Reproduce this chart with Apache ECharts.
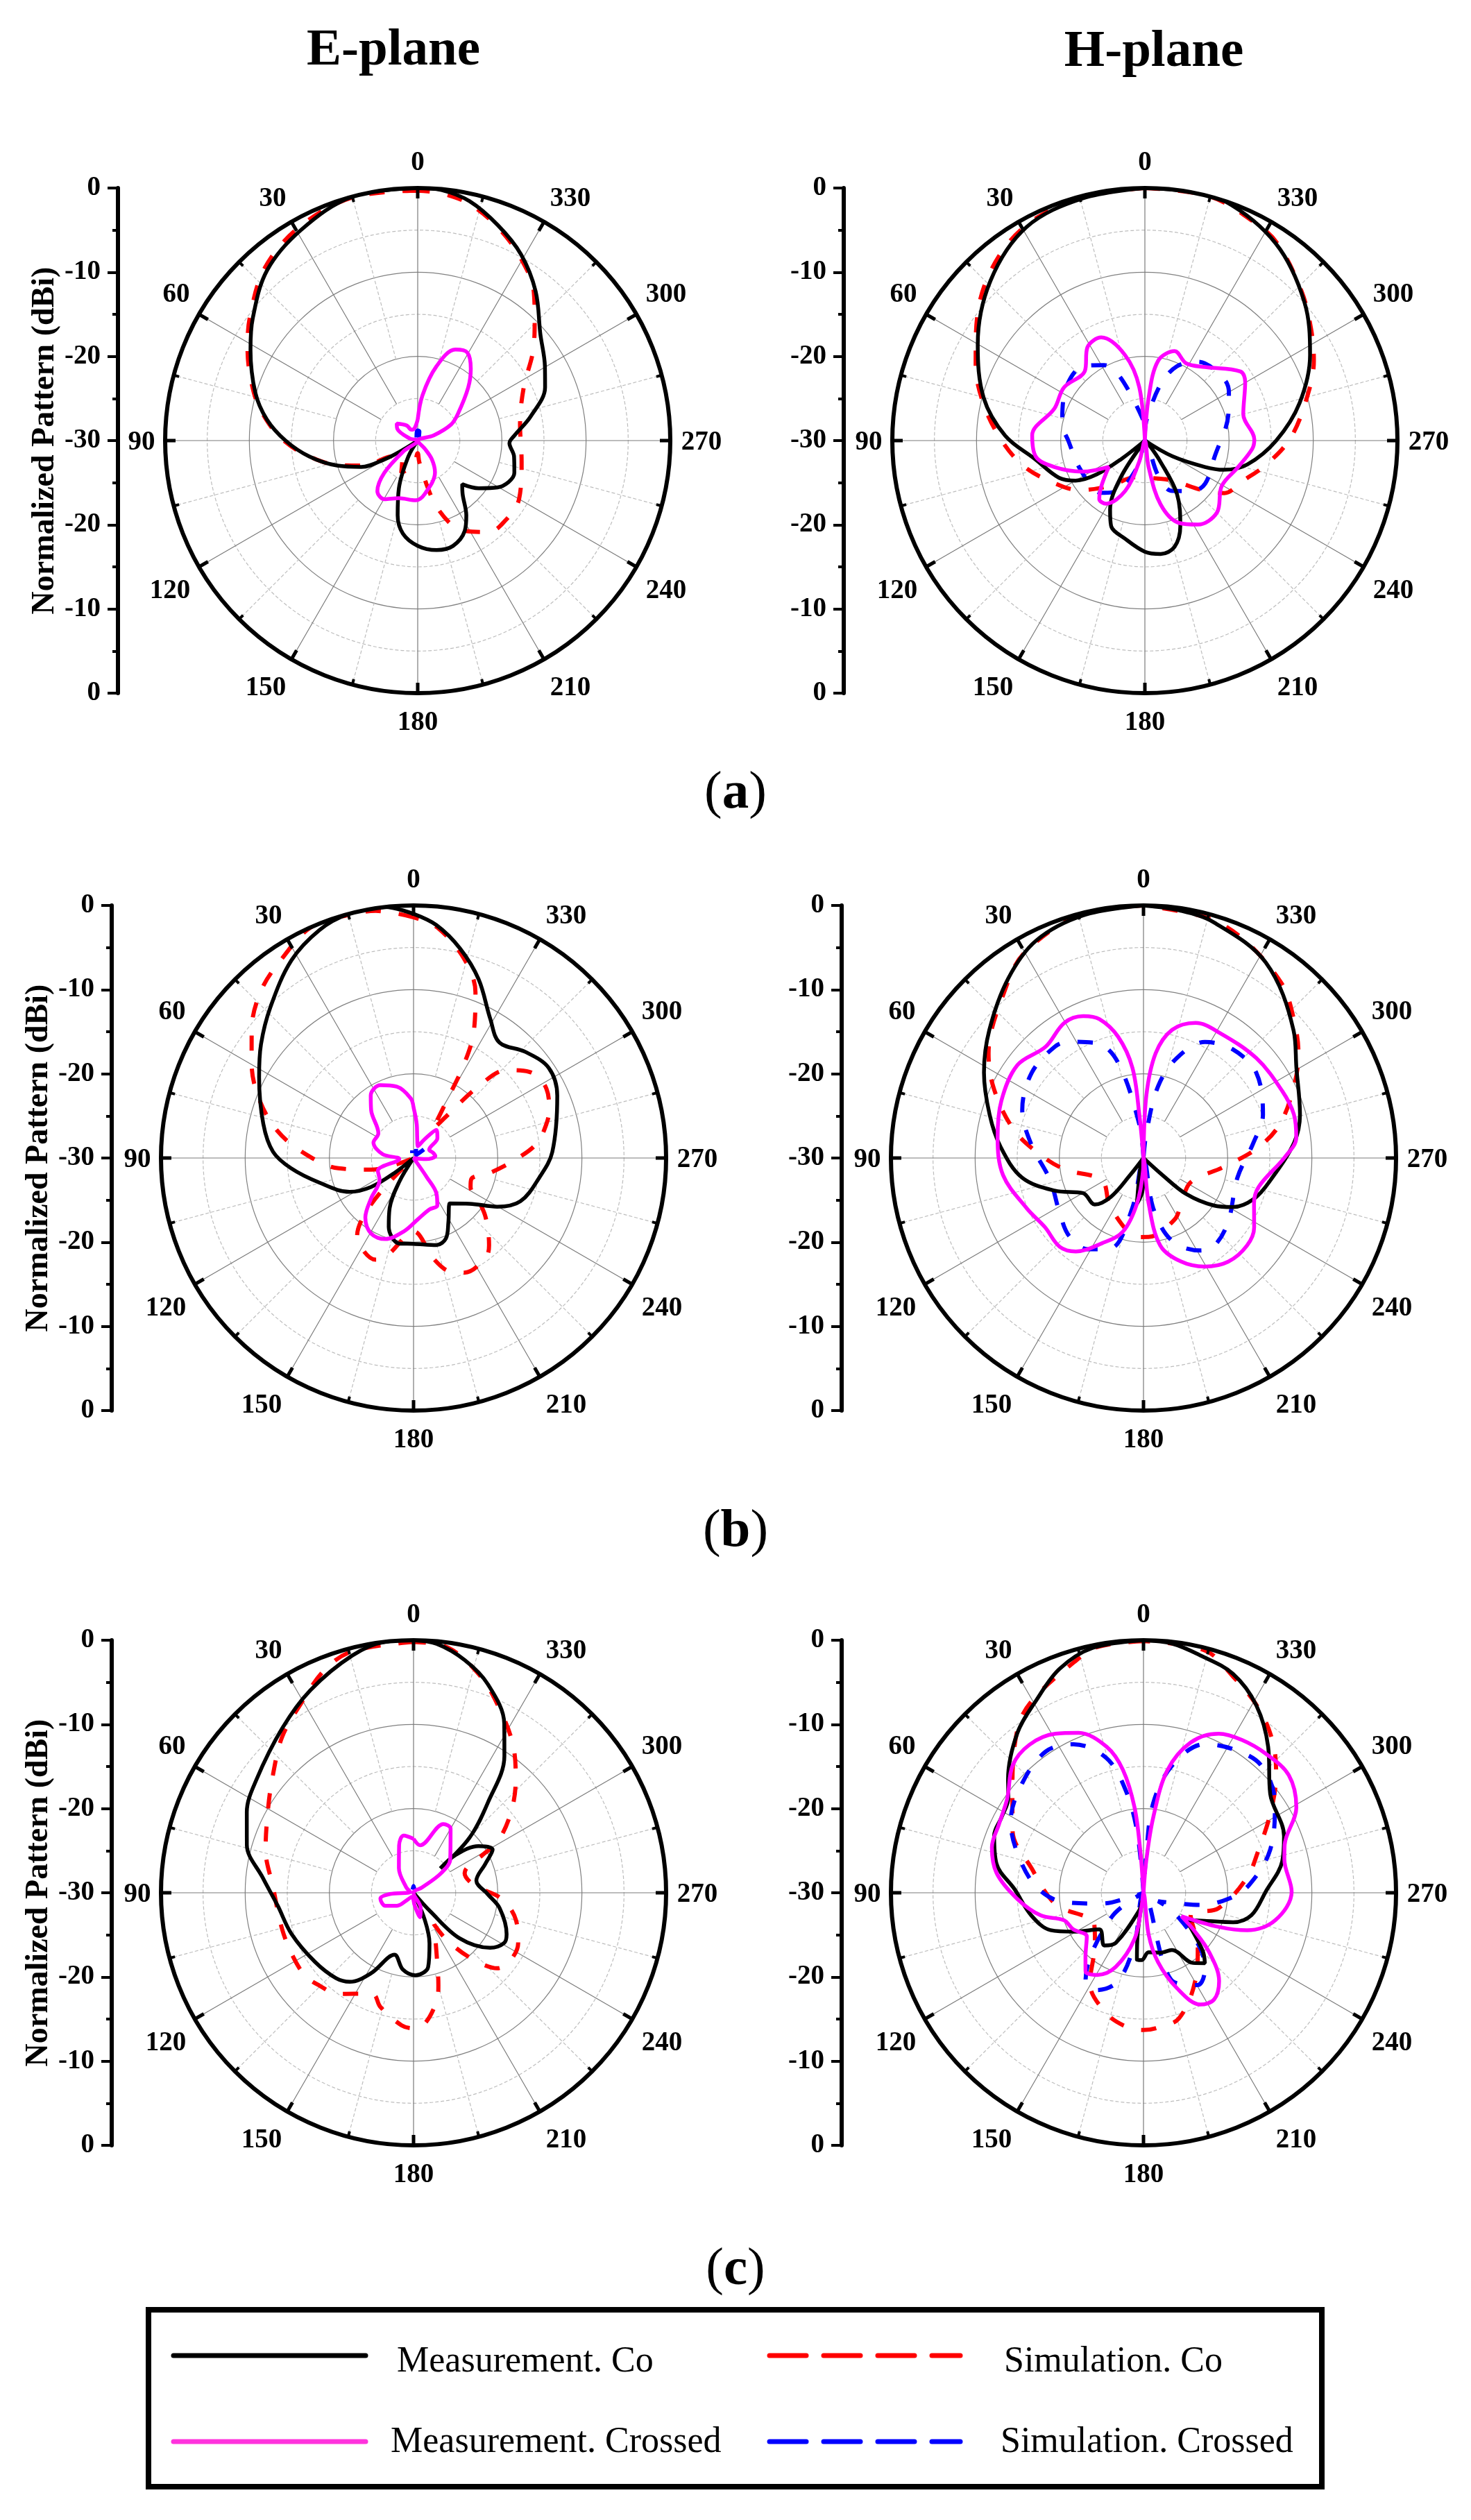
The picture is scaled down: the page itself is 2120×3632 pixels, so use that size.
<!DOCTYPE html>
<html>
<head>
<meta charset="utf-8">
<style>html,body{margin:0;padding:0;background:#fff}#chart{width:2120px;height:3632px}</style>
<script src="https://cdn.jsdelivr.net/npm/echarts@6/dist/echarts.min.js"></script>
</head>
<body>
<div id="chart"></div>
<script>
// every curve: [angle in degrees, level in dB]
const A_E_MEAS_CO = [[0,0],[15,0],[29,-1.4],[41.5,-3],[53.4,-5.6],[61.5,-7.4],[73.6,-9.9],[82,-11.9],[90,-14.3],[98.4,-17],[107.3,-20],[115,-22.6],[119.5,-25.5],[122,-28],[130,-30],[149.6,-27.8],[158.5,-23.9],[165,-20.8],[171,-18.8],[180,-17.5],[189.8,-16.8],[198.5,-16.8],[207.5,-17.9],[213,-19.4],[220,-21.7],[225.6,-22.6],[232,-20.8],[239.6,-19],[251.6,-17.9],[260.6,-18.4],[268.4,-19.1],[273,-18.5],[282,-16.3],[292.7,-13.6],[300.3,-12.5],[311,-10.7],[321.7,-7.4],[331,-4.7],[339.6,-2.7],[347.8,-0.9],[354.6,-0.1],[360,0]];
const A_E_SIM_CO = [[0,-0.3],[15,-0.1],[29,-1],[41.5,-2.6],[53.4,-5.2],[61.5,-7],[73.6,-9.7],[82,-11.8],[90,-14.1],[98.4,-17],[107.3,-20.2],[115,-23],[119,-26],[135,-27.5],[153,-25.7],[170,-27],[180,-28.5],[184,-27.5],[191.7,-24.5],[196,-21.8],[202.5,-19],[207.5,-17.9],[217.6,-16.3],[224,-15.9],[240,-16.1],[258.4,-17.4],[278.8,-17.7],[296.7,-15.9],[308,-12.6],[316,-10],[322,-7.6],[331,-5],[339.6,-2.9],[347.8,-1.2],[354.6,-0.5],[360,-0.3]];
const A_E_MEAS_X = [[0,-27.5],[15,-28.5],[30,-28.5],[36,-27.8],[51,-26.8],[60,-27.2],[75,-29],[90,-30],[115,-30],[127,-27.9],[134,-24.5],[141.5,-22.3],[150.5,-22],[161.8,-22.8],[178,-22.9],[187.5,-23.6],[208.5,-25.7],[217,-27.2],[221,-28.7],[240,-30],[270,-30],[288,-28],[295.7,-25.6],[303.4,-24.3],[316.4,-21.3],[323.5,-19.4],[330.6,-18],[337.5,-18.3],[345.8,-20.9],[354,-24.6],[360,-27.5]];
const A_E_SIM_X = [[340,-29.6],[350,-28.9],[360,-28.8],[5,-28.9],[20,-29.6]];

const A_H_MEAS_CO = [[0,0],[14.4,-0.3],[29,-1],[44,-3.6],[60.1,-7.1],[75.2,-10.2],[88,-13.4],[99.7,-16.8],[113.5,-18.9],[120,-20.5],[125,-23],[128,-26.5],[132,-30],[146.8,-24.7],[153.3,-20.8],[158.4,-19.1],[168.7,-18.1],[180,-16.8],[187.9,-16.4],[195.6,-16.9],[202.5,-19],[211,-22.6],[216.4,-26.9],[228,-29.5],[232,-30],[240.3,-26.2],[246.3,-22.2],[249.7,-20],[256.9,-17.5],[270,-14.4],[283.6,-11.1],[297.4,-7.9],[311,-4.9],[326.4,-1.9],[341.7,0],[351.6,0],[360,0]];
const A_H_SIM_CO = [[0,0],[14.4,-0.2],[30,-0.9],[45,-3.3],[60,-6.8],[66,-8],[77,-10.3],[89,-12.8],[101,-15.1],[112,-17.5],[127.4,-20.3],[143,-23.3],[165,-25.5],[180,-25.6],[214,-24.3],[228.6,-21.2],[236.5,-18.7],[247.8,-17.4],[258.8,-15.3],[271,-12.7],[284.8,-10.1],[295.3,-7.8],[304,-6.2],[313.6,-4.3],[326,-1.8],[333.3,-1],[345,0],[360,0]];
const A_H_MEAS_X = [[0,-30],[6,-23.6],[13,-19.6],[22.9,-16.7],[31.7,-17],[40.9,-19.1],[56.7,-18.5],[70.5,-18.6],[87.3,-16.6],[98.3,-16.9],[106.3,-18.8],[116.4,-21.7],[126,-24.7],[136,-22.6],[142,-21.2],[148.4,-21.2],[158.7,-23.6],[165,-27.4],[178,-30],[188,-26.8],[193.8,-22.2],[202.6,-19.4],[212.3,-18.2],[225,-17.9],[239.5,-19.4],[254,-18.5],[265.7,-17.2],[270.6,-17],[285,-17.9],[300.3,-16.2],[305.9,-16],[320.6,-18.7],[331.8,-19.6],[341.6,-18.8],[350.6,-20.4],[355,-24.9],[360,-30]];
const A_H_SIM_X = [[5,-27.5],[17.5,-24],[23,-21.1],[28.4,-19.8],[39.8,-18.5],[60.9,-19],[79,-20],[90,-20.9],[114,-21.6],[140,-21.9],[150,-23],[165,-26.9],[180,-30],[200.8,-25.6],[208.4,-23.2],[223.8,-21.7],[234.7,-21.2],[257,-21.5],[287.5,-19.6],[299.8,-18.5],[307.8,-18.1],[326,-18.7],[336.7,-20.4],[344.4,-23.1],[355,-27.5],[360,-29]];

const B_E_MEAS_CO = [[0,-1],[6.5,0],[15,0],[22.4,-0.7],[31.7,-2.4],[43.5,-5.3],[53.3,-7.4],[62.4,-9.3],[77.2,-11.7],[87.5,-13.3],[94.8,-15.4],[104.5,-18.4],[117.9,-21.4],[124.3,-23.9],[128,-27.1],[135,-30],[149,-26.7],[154.5,-23.4],[160.2,-21.3],[170.3,-19.7],[180,-19.8],[194.7,-19.3],[201.9,-19.7],[208.4,-21.3],[218.4,-23.1],[230.8,-21.4],[239.8,-18.5],[248,-16.3],[261,-14.9],[272.5,-13.5],[293.4,-11.4],[303.7,-10.7],[313.6,-11.7],[323.4,-12.9],[331.2,-11.1],[340,-7.4],[347.5,-4.5],[354.4,-2.2],[360,-1]];
const B_E_SIM_CO = [[0,-1.4],[8.7,-0.3],[15,-0.1],[24,0],[33.3,-1.6],[42.3,-3.1],[51.7,-5.5],[59.6,-7.7],[68.9,-10.3],[78.7,-13.5],[88,-17.2],[97.8,-21],[105.4,-24.8],[110,-27.6],[130,-30],[144,-18.6],[159.5,-17.1],[163,-17.5],[176,-21],[180,-21.3],[191.5,-17.7],[198,-15.8],[204,-15.1],[216,-15.4],[220.9,-16.3],[230.5,-18.9],[236.5,-20.7],[243,-22.4],[250,-22.7],[260,-20.5],[270.8,-17.3],[277,-15.2],[284.4,-13.7],[289.6,-12.9],[297.5,-12.2],[304.5,-12.5],[309.4,-13.6],[313.4,-14.8],[317.8,-18.5],[322,-23.8],[326,-26],[330,-22],[331.8,-17.2],[334.7,-13.2],[339.5,-9],[345.5,-5.7],[354,-2.5],[360,-1.4]];
const B_E_MEAS_X = [[0,-24],[2.7,-22.9],[13.2,-21.3],[24.5,-20.5],[34.4,-21],[41.5,-22.4],[55,-24.9],[69,-24.9],[83,-26.3],[94,-28.3],[109.6,-25.5],[122.8,-25.2],[133.7,-23],[141,-20.9],[150.7,-19.7],[160.7,-19.8],[172.4,-21.2],[184,-22.7],[197,-23.6],[206.6,-23.7],[212.5,-24.9],[214.6,-27.2],[220,-30],[265,-28.5],[275,-27.4],[285,-27.6],[298,-27.9],[310,-26.3],[321,-25.7],[330,-27.5],[340,-28.5],[350,-27.5],[354.5,-26],[360,-24]];
const B_E_SIM_X = [[310,-28.4],[320,-29.5],[350,-28.5],[360,-28.2],[5,-28],[15,-29.4]];

const B_H_MEAS_CO = [[0,0],[14,-0.3],[26.3,-1.2],[37,-3.3],[50.3,-6.2],[61.8,-8.5],[74.2,-11],[85.7,-13],[99.2,-15.4],[110.3,-18.8],[120.2,-21.7],[133.6,-22],[140,-24],[141.9,-27.4],[150,-30],[160,-29],[171.8,-24.5],[178,-26],[185,-29],[200,-30],[222,-30],[228,-27],[229.8,-23.4],[236,-19.9],[241.2,-17.9],[249.8,-16],[260,-14.7],[275.9,-12],[285.6,-10.7],[300.6,-8.9],[310.4,-6.6],[328,-2.6],[343.3,-0.8],[351.3,-0.3],[360,0]];
const B_H_SIM_CO = [[0,0],[15,-0.2],[30,-1.8],[39,-4],[56,-7.8],[65.1,-10.4],[77.3,-14.1],[86.8,-17.3],[98,-20.5],[112,-24],[121.8,-24.5],[147,-22.9],[177,-20.6],[183.7,-20.6],[206.6,-21.8],[220,-23],[242.8,-23.7],[263.7,-20.4],[275.3,-16.3],[284,-13.3],[295.5,-10.2],[304,-7.8],[314.7,-5.2],[322,-3.5],[335,-1.5],[345,-0.5],[360,0]];
const B_H_MEAS_X = [[0,-30],[5.5,-24.8],[7,-19.2],[11.8,-15.3],[17.6,-12.7],[23,-11.7],[30.4,-11.4],[41.3,-12.4],[53.6,-11.4],[68,-11.8],[82,-12.5],[97,-13.2],[113.3,-14.9],[125,-15.7],[136.6,-15.5],[144.1,-16.3],[153.9,-18.7],[164.3,-20.9],[171.8,-24.5],[178,-28.5],[180,-30],[186.5,-24.5],[190.9,-19.4],[200,-16.9],[209.4,-15.2],[219.2,-14.1],[229.8,-13.9],[238,-14.5],[247.6,-15.8],[255.9,-15.9],[270.4,-13.2],[277.5,-11.7],[286.2,-11.4],[295.8,-11.7],[311.5,-12.1],[329,-12.6],[338.9,-12.8],[347.4,-14.4],[353.4,-17.5],[357.4,-22.6],[360,-30]];
const B_H_SIM_X = [[0,-30],[7,-26],[14.9,-18.3],[22,-15.3],[32.7,-13.6],[38.5,-13.1],[52.6,-13.3],[68.3,-14.5],[83.3,-16.6],[103.3,-18.6],[123.2,-18.1],[136.4,-17.2],[148.6,-17.3],[160.2,-18.6],[167.4,-23.9],[180,-30],[191,-23.9],[199,-19.6],[211.6,-17.1],[218.9,-16.6],[232.9,-17.4],[258.2,-18.6],[278,-16.8],[290,-14.9],[307.2,-13.2],[320.7,-13.3],[332.1,-14.4],[341.6,-17.5],[348.5,-21.3],[353.5,-27],[360,-30]];

const C_E_MEAS_CO = [[0,0],[6.5,0],[14.5,-0.9],[27,-3],[38.6,-5],[54.2,-7],[64.2,-8],[74,-9.4],[84.3,-12],[95.5,-13.8],[108.6,-14.7],[125,-15.7],[137.8,-16.3],[144.4,-17],[152.2,-19.2],[162.9,-22.3],[172,-20.8],[181.3,-20.2],[191.1,-21],[197.5,-23.7],[202.5,-26.5],[210,-30],[222,-27],[225.3,-22.3],[234.3,-18.8],[241,-17.7],[246,-17.9],[259.8,-19.6],[269,-21.2],[281,-22.4],[292,-20.8],[298.6,-19.3],[305.7,-20.5],[312,-23.3],[312.4,-25.7],[314.5,-20.7],[320.4,-16.2],[326.4,-10.5],[331.8,-7.2],[340.4,-3.7],[347.6,-1.7],[354.7,-0.3],[360,0]];
const C_E_SIM_CO = [[0,-0.2],[14.2,-0.4],[21.8,-1.5],[31,-3.9],[40.2,-5.8],[50,-8.2],[59.7,-10],[73.8,-11.7],[87.7,-13.3],[105.5,-13.8],[118.3,-13.8],[127.6,-13.8],[134.6,-14.3],[143.3,-15],[149.7,-16.1],[158.5,-17],[163.7,-15.9],[174.8,-14.2],[180,-13.9],[184.9,-14.4],[191.9,-16.8],[195,-18.6],[201,-22.4],[212.9,-25.5],[215,-23.3],[220.8,-19.9],[228,-16.6],[244.2,-16.2],[255,-17.4],[266,-19.5],[277.5,-22.8],[291,-23.5],[298.8,-20.6],[301,-18.4],[309.5,-15],[317.9,-11.9],[325.6,-9],[336,-5.5],[343.4,-2.9],[352,-0.6],[360,-0.2]];
const C_E_MEAS_X = [[0,-23.6],[9.8,-23.1],[16.9,-24.1],[30.8,-26.6],[53,-28.9],[75,-29.6],[93,-27.2],[100,-26],[114.7,-26.3],[128,-27.5],[140,-29],[160,-29.5],[185,-28.5],[194.8,-27],[205,-28],[215,-30],[290,-30],[302,-28.8],[305.4,-26],[312.4,-24.1],[330,-21.2],[336.5,-21.1],[352.2,-24.3],[360,-23.6]];
const C_E_SIM_X = [[345,-29.6],[360,-29.2],[15,-29.6]];

const C_H_MEAS_CO = [[0,0],[11.8,-0.3],[20.6,-1.6],[29,-3.8],[38.2,-5.8],[50,-9],[55,-10.4],[62,-10.9],[69,-11],[78.8,-12.2],[88.5,-14.7],[101.4,-16.4],[111.9,-18.1],[119.1,-20.5],[129.7,-23.2],[143.4,-22.2],[151,-23.2],[166,-27.8],[170,-29],[172,-25],[174.4,-22],[178.4,-22],[184.9,-22.9],[195.7,-22.6],[206.4,-22.4],[215.2,-19.8],[221.1,-18.9],[225.7,-20.2],[237.5,-24],[245.4,-22],[251.8,-18.8],[258.3,-16.9],[270.4,-15.5],[282.8,-13.1],[292,-12],[308,-10.9],[319.5,-7.2],[329,-4],[337.8,-1.9],[346.6,-1],[353.5,-0.2],[360,0]];
const C_H_SIM_CO = [[0,-0.1],[10.7,-0.3],[16.8,-1.4],[30,-3.6],[37.4,-5.4],[51.5,-10.1],[64.7,-12.8],[77.7,-16.4],[97,-19.4],[110.4,-22.3],[115.9,-23.3],[136,-21.7],[149.4,-17.5],[163,-15],[173.3,-13.9],[180,-13.7],[186.1,-13.9],[195.8,-14.5],[210.6,-17.9],[224.5,-20.8],[244.6,-23.8],[258.4,-20.9],[278.2,-17.6],[290.5,-15.4],[302.4,-12.1],[311.7,-8.9],[319.4,-6.4],[327.9,-4.2],[337.5,-2.2],[345.8,-0.3],[360,-0.1]];
const C_H_MEAS_X = [[0,-30],[4.4,-24.9],[6,-19.8],[9.5,-15.2],[14.2,-12.1],[22.1,-9.5],[29,-8.4],[37.6,-7.8],[45.7,-8.3],[55.2,-10.3],[64.6,-11],[73.3,-11.2],[82.4,-12.4],[92.8,-15],[102.4,-17.5],[109,-20],[117.6,-20.6],[127.6,-21.5],[138,-19.7],[143.6,-18.4],[150.6,-18.8],[159.5,-20.6],[169,-24.4],[172,-28.4],[180,-30],[187,-25],[191.8,-21.6],[199.3,-18],[207,-15.1],[213.5,-14.8],[220.6,-16.2],[227.7,-19.4],[233.7,-22.7],[238.3,-24.7],[245.6,-20.2],[250.1,-16.9],[258.3,-14],[270.4,-12.4],[283.4,-12.8],[288.7,-12.3],[299.2,-9.2],[309,-7.8],[318.7,-8],[327.2,-8.4],[334.7,-9.1],[342.6,-11.3],[349,-15.2],[352.6,-20.9],[355,-26],[360,-30]];
const C_H_SIM_X = [[0,-30],[6,-22.6],[10,-17.5],[15.4,-13.4],[25.2,-10.5],[34.7,-9.6],[48.1,-10.6],[61.8,-12.1],[73,-14.4],[87,-17.3],[96.7,-20.5],[104.5,-24.9],[108,-28.4],[120,-30],[127.5,-25.2],[146.6,-17.5],[154.5,-17.2],[164,-19.1],[170,-23.9],[180,-30],[198,-19],[210.4,-17.3],[218,-18.2],[225.7,-20.6],[237,-25.6],[240,-28],[257.9,-23.1],[265.9,-19.9],[274.3,-17.4],[288.8,-14.1],[304.3,-11.1],[317.3,-9.4],[328,-9.9],[337.6,-10.9],[347.3,-14.5],[353.8,-19.3],[356,-25.4],[360,-30]];

const PANEL_TITLES = ['E-plane', 'H-plane'];
const ROW_LETTERS = ['a', 'b', 'c'];
const ANGLE_LABELS = ['0', '30', '60', '90', '120', '150', '180', '210', '240', '270', '300', '330'];
const Y_TICK_LABELS = ['0', '-10', '-20', '-30', '-20', '-10', '0'];
const Y_NAME = 'Normalized Pattern (dBi)';
const LEGEND_NAMES = ['Measurement. Co', 'Simulation. Co', 'Measurement. Crossed', 'Simulation. Crossed'];
const SOLID_SPOKES = [30, 60, 120, 150, 210, 240, 300, 330];
const AXIS_SPOKES = [0, 90, 180, 270];
const DOTTED_SPOKES = [15, 45, 75, 105, 135, 165, 195, 225, 255, 285, 315, 345];

const SERIF = '"Liberation Serif", "Times New Roman", serif';
const BLACK = '#000000', RED = '#ff0000', BLUE = '#0000ff', MAGENTA = '#ff00ff';
const R = 364;

// layout of the six panels, left axis position included
const panels = [
  {cx: 602, cy: 635, axisX: 170, yName: true, curves: [A_E_SIM_CO, A_E_SIM_X, A_E_MEAS_CO, A_E_MEAS_X]},
  {cx: 1650, cy: 635, axisX: 1216, yName: false, curves: [A_H_SIM_CO, A_H_SIM_X, A_H_MEAS_CO, A_H_MEAS_X]},
  {cx: 596, cy: 1669, axisX: 161, yName: true, curves: [B_E_SIM_CO, B_E_SIM_X, B_E_MEAS_CO, B_E_MEAS_X]},
  {cx: 1648, cy: 1669, axisX: 1213, yName: false, curves: [B_H_SIM_CO, B_H_SIM_X, B_H_MEAS_CO, B_H_MEAS_X]},
  {cx: 596, cy: 2728, axisX: 161, yName: true, curves: [C_E_SIM_CO, C_E_SIM_X, C_E_MEAS_CO, C_E_MEAS_X]},
  {cx: 1648, cy: 2728, axisX: 1213, yName: false, curves: [C_H_SIM_CO, C_H_SIM_X, C_H_MEAS_CO, C_H_MEAS_X]}
];

// where each angle label sits, relative to the panel centre
const labelOffsets = [[0,-400],[-209,-348],[-348,-210],[-398,3],[-357,217],[-219,357],[0,407],[220,357],[358,217],[409,3],[358,-210],[220,-348]];

function spokes(angles, from) {
  let out = [];
  angles.forEach(a => { out.push([from, a], [0, a], ['-', '-']); });
  return out;
}

let polar = [], angleAxis = [], radiusAxis = [], grid = [], xAxis = [], yAxis = [], series = [], graphic = [];

panels.forEach((p, i) => {
  polar.push({center: [p.cx, p.cy], radius: [0, R]});
  angleAxis.push({
    polarIndex: i, type: 'value', min: 0, max: 360, interval: 30, startAngle: 90, clockwise: false, z: 6,
    axisLine: {lineStyle: {color: BLACK, width: 6}},
    axisTick: {show: true, inside: true, length: 15, lineStyle: {color: BLACK, width: 5}},
    minorTick: {show: true, splitNumber: 2, length: 8, lineStyle: {color: BLACK, width: 4}},
    axisLabel: {show: false}, splitLine: {show: false}
  });
  radiusAxis.push({
    polarIndex: i, type: 'value', min: -30, max: 0, interval: 10,
    axisLine: {show: false}, axisTick: {show: false}, axisLabel: {show: false},
    splitLine: {show: true, lineStyle: {color: '#808080', width: 1.2}},
    minorTick: {show: false, splitNumber: 2},
    minorSplitLine: {show: true, lineStyle: {color: '#bdbdbd', width: 1.2, type: [5, 3]}}
  });
  grid.push({left: p.axisX, top: p.cy - R, width: 1, height: 2 * R});
  xAxis.push({gridIndex: i, type: 'value', show: false});
  yAxis.push({
    gridIndex: i, type: 'value', position: 'left', min: -30, max: 30, interval: 10,
    name: p.yName ? Y_NAME : '', nameLocation: 'middle', nameGap: 82, nameRotate: 90,
    nameTextStyle: {fontFamily: SERIF, fontWeight: 'bold', fontSize: 46, color: BLACK},
    axisLine: {show: true, lineStyle: {color: BLACK, width: 6}},
    axisTick: {show: true, length: 15, lineStyle: {color: BLACK, width: 4}},
    minorTick: {show: true, splitNumber: 2, length: 8, lineStyle: {color: BLACK, width: 4}},
    splitLine: {show: false},
    axisLabel: {
      margin: 25, padding: [5, 0, 0, 0], fontFamily: SERIF, fontWeight: 'bold', fontSize: 39, color: BLACK,
      formatter: v => Y_TICK_LABELS[(30 - v) / 10]
    }
  });

  let furniture = [
    {data: spokes(AXIS_SPOKES, -30), color: '#7a7a7a', type: 'solid'},
    {data: spokes(SOLID_SPOKES, -25), color: '#7a7a7a', type: 'solid'},
    {data: spokes(DOTTED_SPOKES, -20), color: '#bdbdbd', type: [5, 3]}
  ];
  furniture.forEach(f => series.push({
    type: 'line', coordinateSystem: 'polar', polarIndex: i, data: f.data, silent: true, clip: false,
    showSymbol: false, connectNulls: false, z: 1, lineStyle: {color: f.color, width: 1.2, type: f.type}
  }));

  [RED, BLUE, BLACK, MAGENTA].forEach((color, k) => {
    series.push({
      type: 'line', coordinateSystem: 'polar', polarIndex: i, smooth: 0.35, showSymbol: false, clip: false,
      silent: true, z: 3 + k,
      data: p.curves[k].map(d => [d[1], d[0]]),
      lineStyle: {color: color, width: k < 2 ? 6 : 5.5, type: k < 2 ? [22, 26] : 'solid'}
    });
  });

  ANGLE_LABELS.forEach((t, n) => {
    graphic.push({
      type: 'text', x: p.cx + labelOffsets[n][0], y: p.cy + labelOffsets[n][1],
      style: {text: t, font: 'bold 39px ' + SERIF, fill: BLACK, textAlign: 'center', textVerticalAlign: 'middle'}
    });
  });
});

// column titles and row letters
[[567, 74], [1663, 76]].forEach((pos, i) => {
  graphic.push({type: 'text', x: pos[0], y: pos[1],
    style: {text: PANEL_TITLES[i], font: 'bold 75px ' + SERIF, fill: BLACK, textAlign: 'center', textVerticalAlign: 'middle'}});
});
[1144, 2208, 3272].forEach((y, i) => {
  graphic.push({type: 'text', x: 1060, y: y,
    style: {text: '{p|(}{b|' + ROW_LETTERS[i] + '}{p|)}', textAlign: 'center', textVerticalAlign: 'middle',
      rich: {p: {font: '77px ' + SERIF, fill: BLACK}, b: {font: 'bold 77px ' + SERIF, fill: BLACK}}}});
});

// legend frame, samples and names
graphic.push({type: 'rect', shape: {x: 214, y: 3329, width: 1691, height: 255}, style: {fill: '#ffffff', stroke: BLACK, lineWidth: 8}});
let legendRows = [
  {x1: 250, x2: 527, y: 3395, color: BLACK, dash: null, tx: 572, ty: 3430, name: LEGEND_NAMES[0]},
  {x1: 1109, x2: 1384, y: 3395, color: RED, dash: [53, 25], tx: 1447, ty: 3430, name: LEGEND_NAMES[1]},
  {x1: 250, x2: 527, y: 3519, color: '#ff33dd', dash: null, tx: 563, ty: 3546, name: LEGEND_NAMES[2]},
  {x1: 1109, x2: 1384, y: 3519, color: BLUE, dash: [53, 25], tx: 1442, ty: 3546, name: LEGEND_NAMES[3]}
];
legendRows.forEach(l => {
  graphic.push({type: 'line', shape: {x1: l.x1, y1: l.y, x2: l.x2, y2: l.y},
    style: {stroke: l.color, lineWidth: 7, lineDash: l.dash, lineCap: 'round'}});
  graphic.push({type: 'text', x: l.tx, y: l.ty,
    style: {text: l.name, font: '52px ' + SERIF, fill: BLACK, textAlign: 'left', textVerticalAlign: 'bottom'}});
});

let myChart = echarts.init(document.getElementById('chart'));
myChart.setOption({
  backgroundColor: '#ffffff', animation: false,
  polar, angleAxis, radiusAxis, grid, xAxis, yAxis, series, graphic
});
</script>
</body>
</html>
